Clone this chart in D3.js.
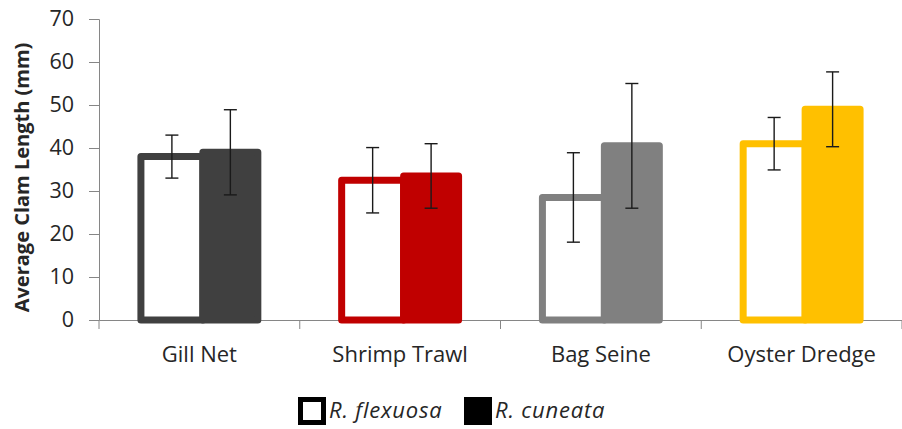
<!DOCTYPE html>
<html>
<head>
<meta charset="utf-8">
<script src="https://cdn.jsdelivr.net/npm/d3@7"></script>
<style>
  body { margin: 0; background: #fff; }
  svg { display: block; font-family: "Open Sans", sans-serif; }
</style>
</head>
<body>
<svg id="vis" width="902" height="429"></svg>
<script>
// gear types along the x axis
var gears = ['Gill Net', 'Shrimp Trawl', 'Bag Seine', 'Oyster Dredge'];
var gearColors = ['#404040', '#c00000', '#808080', '#ffc000'];

// species (hollow bar first, filled bar second)
var species = ['R. flexuosa', 'R. cuneata'];

// mean clam length (mm) and error (+/-) per gear, one array per species
var flexuosaMean = [38, 32.5, 28.5, 41];
var flexuosaErr = [5, 7.6, 10.4, 6.1];
var cuneataMean = [39, 33.5, 40.5, 49];
var cuneataErr = [9.9, 7.5, 14.5, 8.7];

var yTicks = [0, 10, 20, 30, 40, 50, 60, 70];

var svg = d3.select('#vis');

//plot edges (don't use "top", it clashes with window.top)
var plotLeft = 99, plotRight = 902, plotTop = 19, plotBottom = 320;

var x0 = d3.scaleBand()
    .domain(gears)
    .range([plotLeft, plotRight]);

var x1 = d3.scaleBand()
    .domain(species)
    .range([0, x0.bandwidth()])
    .paddingInner(0)
    .paddingOuter(0.62);

var y = d3.scaleLinear()
    .domain([0, 70])
    .range([plotBottom, plotTop]);

var color = d3.scaleOrdinal().domain(gears).range(gearColors);

//build rows for bars
var rows = [];
gears.forEach(function (g, i) {
    rows.push({gear: g, sp: species[0], mean: flexuosaMean[i], err: flexuosaErr[i]});
    rows.push({gear: g, sp: species[1], mean: cuneataMean[i], err: cuneataErr[i]});
});

var sw = 7; //bar border width

// axes
var yAxis = svg.append('g')
    .attr('transform', 'translate(' + plotLeft + ',0)')
    .call(d3.axisLeft(y).tickValues(yTicks).tickSize(10).tickPadding(15));

var xAxis = svg.append('g')
    .attr('transform', 'translate(0,' + plotBottom + ')')
    .call(d3.axisBottom(x0).tickSize(0).tickPadding(26));

//boundary ticks between categories
xAxis.selectAll('.sep')
    .data(gears.concat(['end']))
    .enter()
    .append('line')
    .attr('class', 'sep')
    .attr('x1', function (d, i) { return plotLeft + i * x0.step(); })
    .attr('x2', function (d, i) { return plotLeft + i * x0.step(); })
    .attr('y1', 0)
    .attr('y2', 9)
    .attr('stroke', '#868686');

svg.selectAll('.domain').attr('stroke', '#868686');
yAxis.selectAll('.tick line').attr('stroke', '#868686');
yAxis.selectAll('.tick text')
    .attr('font-size', 21.5)
    .attr('fill', '#262626')
    .style('font-family', '"Open Sans", sans-serif');
xAxis.selectAll('.tick text')
    .attr('font-size', 22)
    .attr('fill', '#262626')
    .style('font-family', '"Open Sans", sans-serif');

// bars - hollow bar runs under the filled one so its right border is hidden
var bars = svg.append('g');

bars.selectAll('rect')
    .data(rows)
    .enter()
    .append('rect')
    .attr('x', function (d) { return x0(d.gear) + x1(d.sp) + sw / 2; })
    .attr('width', function (d) {
        return d.sp === species[0] ? x1.bandwidth() : x1.bandwidth() - sw;
    })
    .attr('y', function (d) { return y(d.mean); })
    .attr('height', function (d) { return plotBottom - y(d.mean); })
    .attr('fill', function (d) { return d.sp === species[0] ? '#fff' : color(d.gear); })
    .attr('stroke', function (d) { return color(d.gear); })
    .attr('stroke-width', sw)
    .attr('stroke-linejoin', 'round');

// error bars
var errs = svg.append('g')
    .attr('stroke', '#1a1a1a')
    .attr('stroke-width', 1.4)
    .selectAll('g')
    .data(rows)
    .enter()
    .append('g')
    .attr('transform', function (d) {
        var off = d.sp === species[0] ? sw / 2 : 0;
        return 'translate(' + (x0(d.gear) + x1(d.sp) + x1.bandwidth() / 2 + off) + ',0)';
    });

errs.append('line')
    .attr('y1', function (d) { return y(d.mean + d.err); })
    .attr('y2', function (d) { return y(d.mean - d.err); });

errs.append('line')
    .attr('x1', -6.5).attr('x2', 6.5)
    .attr('y1', function (d) { return y(d.mean + d.err); })
    .attr('y2', function (d) { return y(d.mean + d.err); });

errs.append('line')
    .attr('x1', -6.5).attr('x2', 6.5)
    .attr('y1', function (d) { return y(d.mean - d.err); })
    .attr('y2', function (d) { return y(d.mean - d.err); });

// y axis title
svg.append('text')
    .attr('transform', 'translate(29,' + ((plotTop + plotBottom) / 2 + 8) + ') rotate(-90)')
    .attr('text-anchor', 'middle')
    .attr('font-size', 20)
    .attr('font-weight', 'bold')
    .attr('fill', '#262626')
    .text('Average Clam Length (mm)');

// legend
var legend = svg.append('g')
    .attr('transform', 'translate(298,397)');

var legendItems = legend.selectAll('.legend-item')
    .data(species)
    .enter()
    .append('g')
    .attr('transform', function (d, i) { return 'translate(' + (i * 166) + ',0)'; });

legendItems.append('rect')
    .attr('x', function (d, i) { return i === 0 ? 2.5 : 0; })
    .attr('y', function (d, i) { return i === 0 ? 2.5 : 0; })
    .attr('width', function (d, i) { return i === 0 ? 23 : 28; })
    .attr('height', function (d, i) { return i === 0 ? 23 : 28; })
    .attr('fill', function (d, i) { return i === 0 ? '#fff' : '#000'; })
    .attr('stroke', '#000')
    .attr('stroke-width', function (d, i) { return i === 0 ? 5 : 0; });

legendItems.append('text')
    .attr('x', 31)
    .attr('y', 21)
    .attr('font-size', 22)
    .attr('letter-spacing', 0.8)
    .attr('font-style', 'italic')
    .attr('fill', '#262626')
    .text(function (d) { return d; });
</script>
</body>
</html>
